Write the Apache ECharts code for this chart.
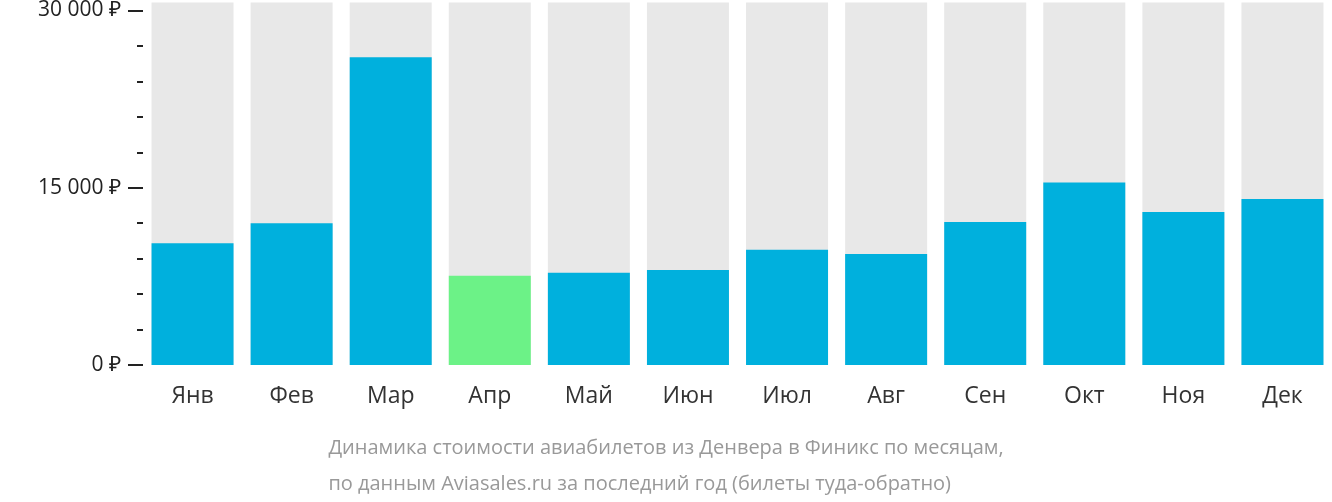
<!DOCTYPE html>
<html>
<head>
<meta charset="utf-8">
<script src="https://cdn.jsdelivr.net/npm/echarts@6/dist/echarts.min.js"></script>
<style>html,body{margin:0;padding:0;background:#fff}#chart{width:1332px;height:502px}</style>
</head>
<body>
<div id="chart"></div>
<script>
let months = ['Янв', 'Фев', 'Мар', 'Апр', 'Май', 'Июн', 'Июл', 'Авг', 'Сен', 'Окт', 'Ноя', 'Дек'];
let prices = [10300, 12000, 26050, 7550, 7800, 8050, 9750, 9400, 12100, 15450, 12950, 14050];
let cheapestIndex = 3;
let majorTicks = [0, 15000, 30000];
let minorTicks = [3000, 6000, 9000, 12000, 18000, 21000, 24000, 27000];

let axisMax = 30672;
let chart = echarts.init(document.getElementById('chart'));

function fmt(v) {
    return String(v).replace(/\B(?=(\d{3})+(?!\d))/g, ' ') + ' ₽';
}

let option = {
    animation: false,
    textStyle: {fontFamily: 'Open Sans'},
    grid: {left: 143, top: 0, width: 1200, height: 365},
    xAxis: {
        type: 'category',
        data: months,
        axisLine: {show: false},
        axisTick: {show: false},
        axisLabel: {color: '#333', fontSize: 23, margin: 20, fontFamily: 'Open Sans'}
    },
    yAxis: [
        {
            type: 'value', min: 0, max: axisMax,
            splitLine: {show: false},
            axisLine: {show: false},
            axisTick: {show: true, length: 15, customValues: majorTicks, lineStyle: {color: '#222', width: 2}},
            axisLabel: {customValues: majorTicks, formatter: fmt, color: '#222', fontSize: 21, margin: 22, fontFamily: 'Open Sans'}
        },
        {
            type: 'value', min: 0, max: axisMax, position: 'left',
            splitLine: {show: false},
            axisLine: {show: false},
            axisTick: {show: true, length: 6, customValues: minorTicks, lineStyle: {color: '#222', width: 2}},
            axisLabel: {show: false}
        }
    ],
    series: [{
        type: 'bar',
        barWidth: 82,
        data: prices.map(function (v, i) {
            return {value: v, itemStyle: {color: i === cheapestIndex ? '#6cf287' : '#00b0dd'}};
        }),
        showBackground: true,
        backgroundStyle: {color: '#e8e8e8'}
    }],
    graphic: [{
        type: 'text', left: 'center', top: 430,
        style: {
            text: 'Динамика стоимости авиабилетов из Денвера в Финикс по месяцам,\nпо данным Aviasales.ru за последний год (билеты туда-обратно)',
            fill: '#999', fontSize: 20, lineHeight: 36, align: 'center', fontFamily: 'Open Sans'
        }
    }]
};
option && chart.setOption(option);
</script>
</body>
</html>
